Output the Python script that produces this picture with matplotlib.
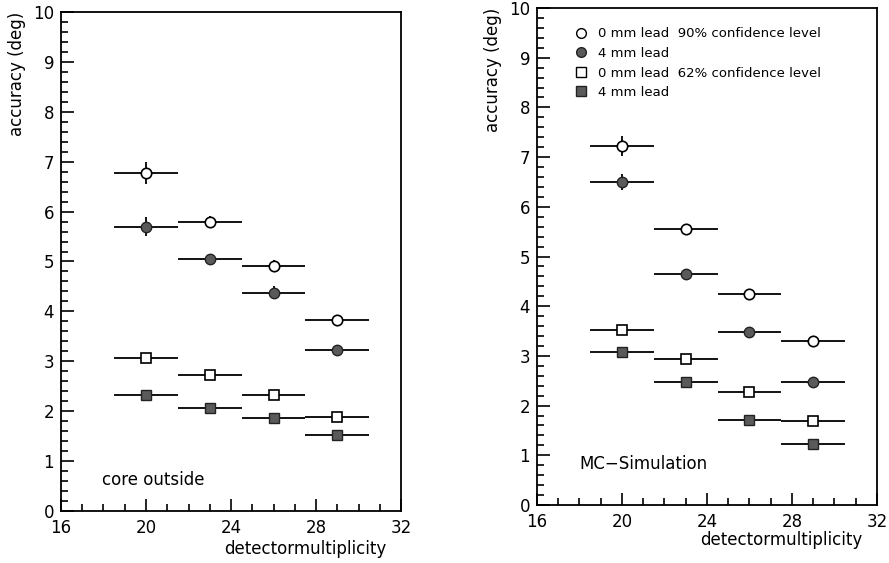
import numpy as np
import matplotlib
matplotlib.use("Agg")
import matplotlib.pyplot as plt
from matplotlib.ticker import MultipleLocator
from matplotlib.lines import Line2D

# multiplicity bins (centre, half width)
mult = [20, 23, 26, 29]
half_width = 1.5

# left panel: core outside (measured)
left_open_circle = [6.78, 5.80, 4.90, 3.83]
left_open_circle_err = [0.22, 0.12, 0.12, 0.06]
left_fill_circle = [5.70, 5.05, 4.37, 3.22]
left_fill_circle_err = [0.19, 0.08, 0.13, 0.05]
left_open_square = [3.07, 2.72, 2.32, 1.88]
left_fill_square = [2.33, 2.07, 1.87, 1.52]

# right panel: MC simulation
right_open_circle = [7.23, 5.55, 4.24, 3.30]
right_open_circle_err = [0.20, 0.06, 0.05, 0.04]
right_fill_circle = [6.50, 4.65, 3.48, 2.48]
right_fill_circle_err = [0.17, 0.05, 0.04, 0.04]
right_open_square = [3.52, 2.93, 2.27, 1.70]
right_fill_square = [3.08, 2.47, 1.72, 1.23]

labels = ["0 mm lead  90% confidence level", "4 mm lead",
          "0 mm lead  62% confidence level", "4 mm lead"]

plt.rcParams["font.family"] = "DejaVu Sans"
fig = plt.figure(figsize=(8.89, 5.63), dpi=100)
ax1 = fig.add_axes([0.0686, 0.0924, 0.3825, 0.8863])
ax2 = fig.add_axes([0.604, 0.103, 0.3825, 0.8828])

FILL = "#5a5a5a"
MS = 7.5


def draw(ax, oc, oc_err, fc, fc_err, os_, fs, xlabel_y):
    xerr = [half_width] * len(mult)
    ax.errorbar(mult, oc, xerr=xerr, yerr=oc_err, fmt="o", ms=MS,
                mfc="white", mec="black", mew=1.2, ecolor="black",
                elinewidth=1.3, capsize=0)
    ax.errorbar(mult, fc, xerr=xerr, yerr=fc_err, fmt="o", ms=MS,
                mfc=FILL, mec="#222222", mew=1.0, ecolor="black",
                elinewidth=1.3, capsize=0)
    ax.errorbar(mult, os_, xerr=xerr, fmt="s", ms=MS,
                mfc="white", mec="black", mew=1.2, ecolor="black",
                elinewidth=1.3, capsize=0)
    ax.errorbar(mult, fs, xerr=xerr, fmt="s", ms=MS,
                mfc=FILL, mec="#222222", mew=1.0, ecolor="black",
                elinewidth=1.3, capsize=0)

    ax.set_xlim(16, 32)
    ax.set_ylim(0, 10)
    ax.xaxis.set_major_locator(MultipleLocator(4))
    ax.xaxis.set_minor_locator(MultipleLocator(1))
    ax.yaxis.set_major_locator(MultipleLocator(1))
    ax.yaxis.set_minor_locator(MultipleLocator(0.2))
    ax.tick_params(which="both", direction="in", top=False, right=False,
                   labelsize=12, width=1.2)
    ax.tick_params(which="major", length=9)
    ax.tick_params(which="minor", length=5)
    ax.tick_params(axis="x", which="major", pad=6)
    ax.tick_params(axis="y", which="major", pad=5)
    for s in ax.spines.values():
        s.set_linewidth(1.3)
    ax.set_ylabel("accuracy (deg)", fontsize=12, loc="top", labelpad=5)
    ax.text(0.958, xlabel_y, "detectormultiplicity", transform=ax.transAxes,
            ha="right", va="center", fontsize=12)


draw(ax1, left_open_circle, left_open_circle_err, left_fill_circle,
     left_fill_circle_err, left_open_square, left_fill_square, -0.077)
draw(ax2, right_open_circle, right_open_circle_err, right_fill_circle,
     right_fill_circle_err, right_open_square, right_fill_square, -0.07)

ax1.text(17.95, 0.62, "core outside", fontsize=12, va="center")
ax2.text(18.0, 0.82, "MC\u2212Simulation", fontsize=12, va="center")

# legend markers only, no bars
leg_handles = [
    Line2D([], [], ls="none", marker="o", ms=7, mfc="white", mec="black"),
    Line2D([], [], ls="none", marker="o", ms=7, mfc=FILL, mec="#222222"),
    Line2D([], [], ls="none", marker="s", ms=7, mfc="white", mec="black"),
    Line2D([], [], ls="none", marker="s", ms=7, mfc=FILL, mec="#222222"),
]
ax2.legend(leg_handles, labels, loc="upper left", bbox_to_anchor=(0.075, 0.985),
           frameon=False, fontsize=9.5, handlelength=1.0, handletextpad=0.8,
           labelspacing=0.5)

fig.savefig("out.png", dpi=100)
